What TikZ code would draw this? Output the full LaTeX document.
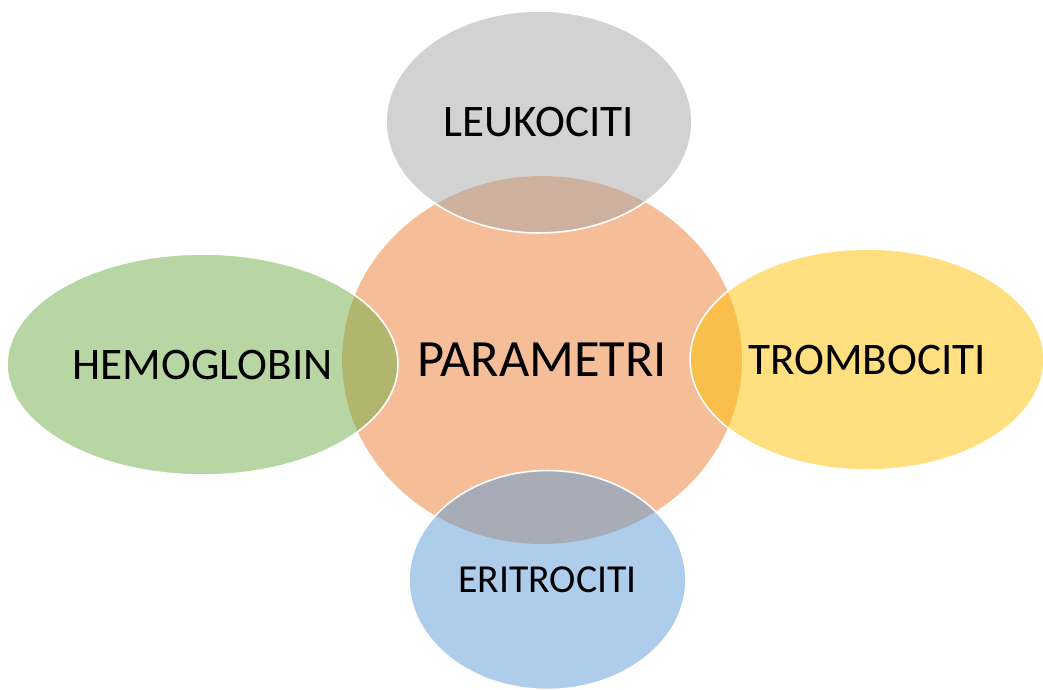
\documentclass[tikz,border=0pt]{standalone}
\usepackage{fontspec}
\setmainfont{Carlito}
\usetikzlibrary{shapes.geometric}
\definecolor{paramorange}{HTML}{ED7D31}
\definecolor{leukogrey}{HTML}{A5A5A5}
\definecolor{hemogreen}{HTML}{70AD47}
\definecolor{trombogold}{HTML}{FFC000}
\definecolor{eritroblue}{HTML}{5B9BD5}
\begin{document}
\begin{tikzpicture}[x=0.02cm, y=-0.02cm,
        bubble/.style={ellipse, inner sep=0pt, fill opacity=0.5, text opacity=1, draw=white, line width=0.9pt, font=\fontsize{25.7}{30}\selectfont}]
            \useasboundingbox (0,0) rectangle (1043,689);
            \node[ellipse, inner sep=0pt, fill=paramorange, fill opacity=0.5, text opacity=1, minimum width=8cm, minimum height=7.36cm, font=\fontsize{29.8}{35}\selectfont] (param) at (542,360) {PARAMETRI};
            \node[bubble, fill=leukogrey, minimum width=6.12cm, minimum height=4.44cm] (leuko) at (539,122) {LEUKOCITI};
            \node[bubble, fill=hemogreen, minimum width=7.82cm, minimum height=4.42cm] (hemo) at (202.5,364.5) {HEMOGLOBIN};
            \node[bubble, fill=trombogold, minimum width=7.08cm, minimum height=4.42cm] (trombo) at (867,359.5) {TROMBOCITI};
            \node[bubble, fill=eritroblue, minimum width=5.54cm, minimum height=4.38cm, font=\fontsize{22.6}{27}\selectfont] (eritro) at (547.5,580) {ERITROCITI};
        \end{tikzpicture}
\end{document}
